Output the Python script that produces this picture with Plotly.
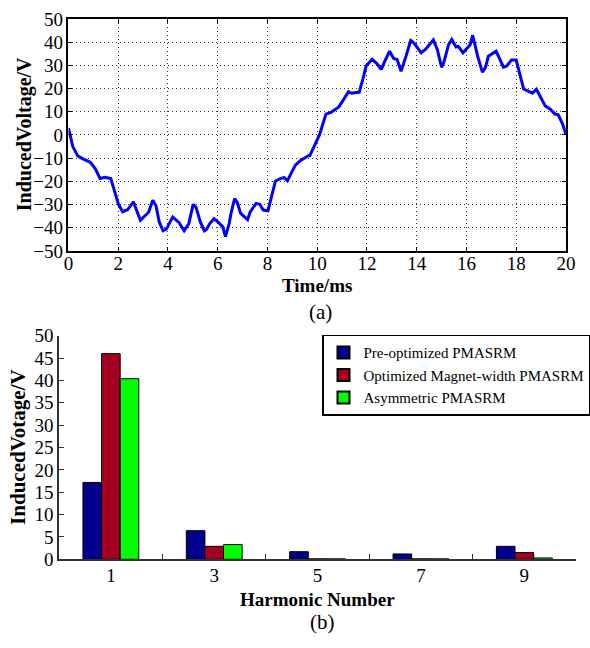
import plotly.graph_objects as go

# ---- (a) induced voltage waveform ----
time_ms = [0.0, 0.17, 0.37, 0.56, 0.88, 1.08, 1.27, 1.47, 1.70, 1.86, 2.01, 2.18, 2.38, 2.61, 2.77, 2.89,
           3.16, 3.22, 3.39, 3.52, 3.65, 3.80, 3.93, 4.19, 4.45, 4.65, 4.84, 5.01, 5.13, 5.30, 5.46, 5.55,
           5.68, 5.85, 6.05, 6.20, 6.31, 6.46, 6.53, 6.68, 6.79, 6.92, 7.20, 7.30, 7.54, 7.69, 7.83, 8.02,
           8.15, 8.32, 8.47, 8.67, 8.80, 9.12, 9.32, 9.64, 9.70, 9.87, 10.03, 10.09, 10.35, 10.55, 10.87,
           11.26, 11.39, 11.69, 11.84, 11.97, 12.21, 12.40, 12.58, 12.69, 12.91, 13.08, 13.21, 13.37, 13.57,
           13.76, 13.89, 14.18, 14.37, 14.67, 14.83, 15.00, 15.09, 15.28, 15.41, 15.58, 15.67, 15.86, 16.15,
           16.25, 16.45, 16.64, 16.77, 16.88, 17.19, 17.32, 17.49, 17.61, 17.81, 18.00, 18.14, 18.30, 18.46,
           18.65, 18.81, 18.98, 19.17, 19.37, 19.56, 19.69, 19.86, 20.0]
voltage_v = [3.0, -4.9, -9.0, -10.2, -11.8, -14.6, -18.8, -18.3, -18.8, -24.3, -29.9, -33.1, -32.2, -28.8,
             -33.3, -36.8, -34.0, -33.3, -28.1, -30.6, -37.5, -41.3, -40.6, -35.4, -37.8, -41.3, -38.2, -29.9,
             -31.3, -37.5, -41.3, -40.7, -38.2, -36.1, -37.9, -39.6, -43.8, -38.2, -34.0, -27.4, -29.2, -33.8,
             -36.5, -33.3, -29.5, -29.9, -32.4, -32.7, -27.1, -19.9, -19.0, -18.3, -19.7, -13.0, -11.1, -9.0,
             -9.0, -4.9, -1.0, 0.0, 9.0, 9.7, 12.1, 18.7, 18.0, 18.5, 24.3, 29.8, 32.6, 30.8, 28.2, 31.2,
             36.1, 32.9, 32.6, 27.5, 34.0, 40.7, 39.6, 35.4, 37.1, 41.0, 36.8, 29.2, 31.2, 38.9, 41.2, 37.9,
             38.2, 35.4, 38.9, 43.0, 34.0, 27.1, 29.2, 34.0, 36.1, 32.9, 29.2, 29.6, 32.3, 32.3, 26.4, 19.8,
             19.0, 18.0, 19.7, 16.0, 12.5, 11.1, 9.0, 8.7, 4.8, 0.4]

# ---- (b) harmonic spectrum ----
harmonics = ["1", "3", "5", "7", "9"]
pre_optimized = [17.2, 6.4, 1.7, 1.2, 2.9]
optimized_width = [46.0, 2.9, 0.1, 0.1, 1.5]
asymmetric = [40.4, 3.3, 0.1, 0.1, 0.3]
series_names = ["Pre-optimized PMASRM", "Optimized Magnet-width PMASRM", "Asymmetric PMASRM"]
series_colors = ["#00008F", "#A50021", "#00FF00"]

FONT = "Liberation Serif"
W, H = 590, 648

fig = go.Figure()
fig.add_trace(go.Scatter(x=time_ms, y=voltage_v, mode="lines", line=dict(color="#0000FF", width=3),
                         showlegend=False, xaxis="x", yaxis="y"))
for name, vals, col in zip(series_names, [pre_optimized, optimized_width, asymmetric], series_colors):
    fig.add_trace(go.Bar(x=harmonics, y=vals, name=name, marker=dict(color=col, line=dict(color="black", width=1)),
                         xaxis="x2", yaxis="y2"))

tickfont = dict(family=FONT, size=19, color="black")
grid = dict(showgrid=True, gridcolor="#333", griddash="1px,3px", gridwidth=1)

fig.update_layout(
    width=W, height=H, margin=dict(l=0, r=0, t=0, b=0),
    paper_bgcolor="white", plot_bgcolor="white",
    font=dict(family=FONT, color="black"),
    barmode="group", bargap=0.46, bargroupgap=0,
    xaxis=dict(domain=[65.6 / W, 579.6 / W], anchor="y", range=[0, 20], tickmode="linear", tick0=0, dtick=2,
               showline=True, linecolor="black", linewidth=1.5, mirror="ticks", ticks="inside", ticklen=4,
               tickcolor="black", tickfont=tickfont, zeroline=False, ticklabelstandoff=-5, **grid),
    yaxis=dict(domain=[1 - 249 / H, 1 - 9.3 / H], anchor="x", range=[-50, 50], tickmode="linear", tick0=-50, dtick=10,
               showline=True, linecolor="black", linewidth=1.5, mirror="ticks", ticks="inside", ticklen=4,
               tickcolor="black", tickfont=tickfont, zeroline=False, **grid),
    xaxis2=dict(domain=[56 / W, 1.0], anchor="y2", type="category", range=[-0.5, 4.5], tickson="boundaries",
                showline=True, linecolor="#333", linewidth=2, ticks="inside", ticklen=5, tickcolor="#333",
                tickfont=tickfont, showgrid=False, zeroline=False, ticklabelstandoff=-2),
    yaxis2=dict(domain=[1 - 567.7 / H, 1 - 336.7 / H], anchor="x2", range=[0, 50], tickmode="linear", tick0=0, dtick=5,
                showline=True, linecolor="#333", linewidth=2, ticks="inside", ticklen=5, tickcolor="#333",
                tickfont=tickfont, showgrid=False, zeroline=False),
    legend=dict(x=327.7 / W, y=1 - 335.7 / H, xanchor="left", yanchor="top", bgcolor="white",
                bordercolor="black", borderwidth=1.5, font=dict(family=FONT, size=15, color="black"),
                tracegroupgap=0, itemsizing="constant"),
)

def note(text, x, y, size=19, bold=False, angle=0):
    fig.add_annotation(text=f"<b>{text}</b>" if bold else text, x=x / W, y=1 - y / H, xref="paper", yref="paper",
                       showarrow=False, textangle=angle, xanchor="center", yanchor="middle",
                       font=dict(family=FONT, size=size, color="black"))

note("InducedVoltage/V", 21, 128, size=20, bold=True, angle=-90)
note("Time/ms", 322, 285, size=19, bold=True)
note("(a)", 326, 312, size=21)
note("InducedVotage/V", 14, 452, size=21, bold=True, angle=-90)
note("Harmonic Number", 323, 609, size=19, bold=True)
note("(b)", 328, 633, size=21)

fig.write_html("out.html")
